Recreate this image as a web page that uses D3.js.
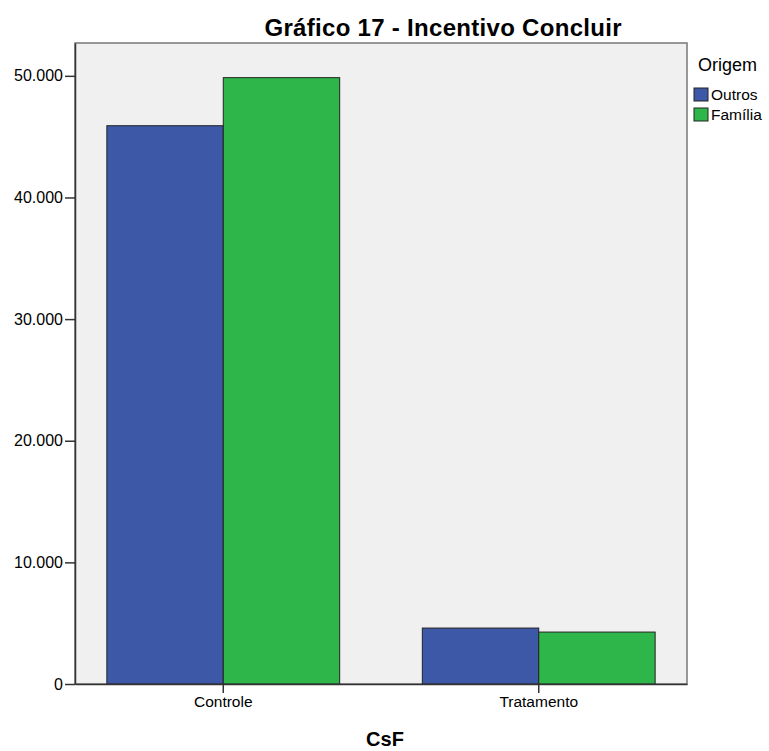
<!DOCTYPE html>
<html>
<head>
<meta charset="utf-8">
<script src="https://cdn.jsdelivr.net/npm/d3@7"></script>
<style>
  body { margin: 0; background: #fff; }
  text { font-family: "Liberation Sans Narrow", "Liberation Sans", Arial, sans-serif; fill: #000; }
</style>
</head>
<body>
<div id="chart"></div>
<script>
// values
var categories = ["Controle", "Tratamento"];
var series = ["Outros", "Família"];
var outros = [45900, 4600];
var familia = [49850, 4270];
var yTicks = [0, 10000, 20000, 30000, 40000, 50000];
var colors = ["#3e58a8", "#2fb64a"];

var svg = d3.select("#chart").append("svg").attr("width", 769).attr("height", 751),
    margin = {top: 43, right: 82, bottom: 67, left: 75},
    width = +svg.attr("width") - margin.left - margin.right,
    height = +svg.attr("height") - margin.top - margin.bottom;

var data = categories.map(function(c, i) {
  return {cat: c, values: [outros[i], familia[i]]};
});

var x0 = d3.scaleBand().domain(categories).range([0, width]).paddingInner(0.262).paddingOuter(0.101);
var x1 = d3.scaleBand().domain(series).range([0, x0.bandwidth()]);
var y = d3.scaleLinear().domain([0, 52700]).range([height, 0]);

var g = svg.append("g")
    .attr("transform", "translate(" + margin.left + "," + margin.top + ")");

// plot background
g.append("rect")
    .attr("width", width)
    .attr("height", height)
    .attr("fill", "#f0f0f0")
    .attr("stroke", "#777")
    .attr("stroke-width", 1.5);

// bars
g.selectAll(".grp")
    .data(data)
  .enter().append("g")
    .attr("class", "grp")
    .attr("transform", function(d) { return "translate(" + x0(d.cat) + ",0)"; })
  .selectAll("rect")
    .data(function(d) { return d.values.map(function(v, i) { return {key: series[i], value: v, i: i}; }); })
  .enter().append("rect")
    .attr("x", function(d) { return x1(d.key); })
    .attr("y", function(d) { return y(d.value); })
    .attr("width", x1.bandwidth())
    .attr("height", function(d) { return height - y(d.value); })
    .attr("fill", function(d) { return colors[d.i]; })
    .attr("stroke", "#222")
    .attr("stroke-width", 1);

// y axis
var yAxis = g.append("g")
    .call(d3.axisLeft(y).tickValues(yTicks).tickSize(10).tickSizeOuter(0)
      .tickFormat(function(d) { return d === 0 ? "0" : d3.format(",")(d).replace(/,/g, "."); }));
yAxis.select(".domain").attr("stroke", "#333").attr("stroke-width", 1.5);
yAxis.selectAll(".tick line").attr("stroke", "#333").attr("stroke-width", 1.5);
yAxis.selectAll("text").attr("font-size", 16).attr("fill", "#222").attr("x", -12);

// x axis
var xAxis = g.append("g")
    .attr("transform", "translate(0," + height + ")")
    .call(d3.axisBottom(x0).tickSize(9).tickSizeOuter(0));
xAxis.select(".domain").attr("stroke", "#333").attr("stroke-width", 1.5);
xAxis.selectAll(".tick line").attr("stroke", "#333").attr("stroke-width", 1.5);
xAxis.selectAll("text").attr("font-size", 15.5).attr("fill", "#222").attr("y", 12);

// title
svg.append("text")
    .attr("x", 443)
    .attr("y", 36)
    .attr("text-anchor", "middle")
    .attr("font-size", 24)
    .attr("font-weight", "bold")
    .attr("textLength", 357)
    .text("Gráfico 17 - Incentivo Concluir");

// x axis title
svg.append("text")
    .attr("x", 385)
    .attr("y", 746)
    .attr("text-anchor", "middle")
    .attr("font-size", 20)
    .attr("font-weight", "bold")
    .text("CsF");

// legend
var legend = svg.append("g").attr("transform", "translate(694,0)");
legend.append("text")
    .attr("x", 4)
    .attr("y", 71)
    .attr("font-size", 18)
    .attr("fill", "#222")
    .text("Origem");
legend.selectAll(".item")
    .data(series)
  .enter().append("g")
    .attr("class", "item")
    .attr("transform", function(d, i) { return "translate(0," + (88 + i * 20) + ")"; })
    .each(function(d, i) {
      var s = d3.select(this);
      s.append("rect").attr("width", 14).attr("height", 13)
          .attr("fill", colors[i]).attr("stroke", "#222").attr("stroke-width", 1);
      s.append("text").attr("x", 17).attr("y", 12).attr("font-size", 15.5).attr("fill", "#222").text(d);
    });
</script>
</body>
</html>
